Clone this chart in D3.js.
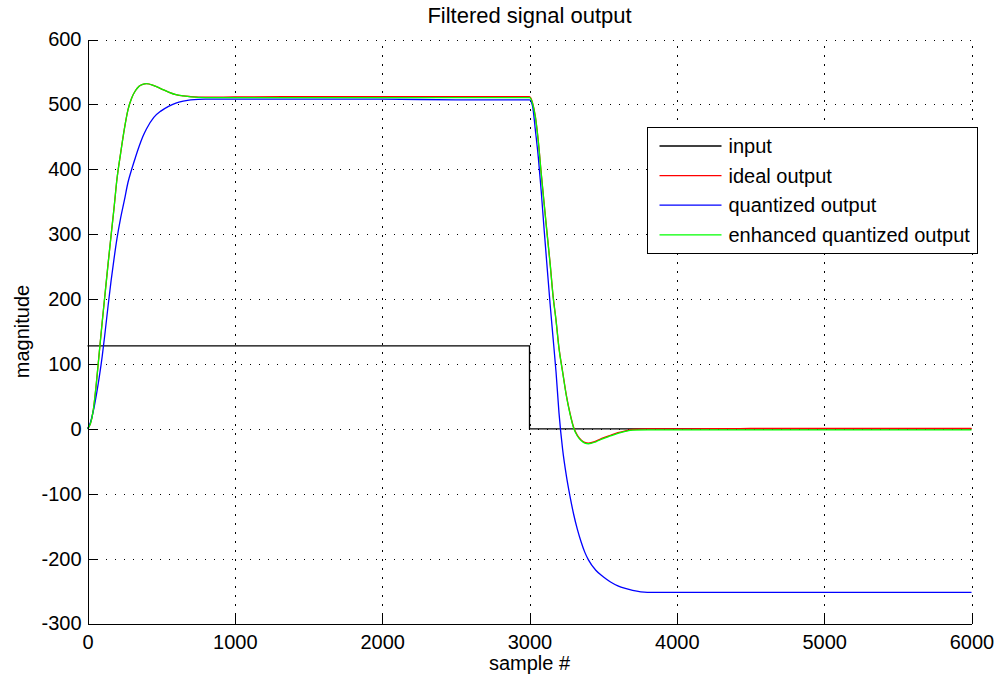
<!DOCTYPE html>
<html>
<head>
<meta charset="utf-8">
<script src="https://cdn.jsdelivr.net/npm/d3@7"></script>
<style>
  body { margin: 0; background: #fff; }
  svg { font-family: "Liberation Sans", Arial, Helvetica, sans-serif; }
  .grid line { stroke: #000; stroke-width: 1; stroke-dasharray: 1.5,7.5; shape-rendering: crispEdges; }
  .axis path, .axis line { stroke: #000; shape-rendering: crispEdges; }
  .trace { fill: none; stroke-width: 1.3; }
</style>
</head>
<body>
<svg width="996" height="683"></svg>
<script>
const width = 996,
  height = 683

const margin = { top: 39.5, right: 24.5, bottom: 59.5, left: 87.5 }

// x ticks and y ticks
const xTicks = [0, 1000, 2000, 3000, 4000, 5000, 6000]
const yTicks = [-300, -200, -100, 0, 100, 200, 300, 400, 500, 600]

// input step
const inputSamples = [0, 3000, 3000, 6000]
const inputValues = [128, 128, 0, 0]

// filter outputs
const samples = [
  0, 20, 40, 60, 80, 100, 120, 140, 160, 180, 200, 225, 250, 275, 300, 325, 350, 375, 400,
  450, 500, 550, 600, 650, 700, 800, 1000, 1500, 2000, 2500, 3000,
  3020, 3040, 3060, 3080, 3100, 3120, 3140, 3160, 3180, 3200, 3225, 3250, 3275, 3300, 3325,
  3350, 3375, 3400, 3450, 3500, 3550, 3600, 3650, 3700, 3800, 4000, 4500, 5000, 5500, 6000
]

const idealOutput = [
  0, 8, 30, 70, 118, 165, 210, 255, 298, 340, 385, 425, 462, 492, 510, 521, 528, 531, 532,
  529, 524, 519, 515, 513, 512, 511, 511.5, 512, 512, 512, 512,
  503, 481, 443, 393, 346, 300, 255, 205, 168, 125, 88, 52, 24, 2, -10,
  -17, -21, -22, -19, -14, -10, -6, -3, -1, 0, 0, 0.5, 0.5, 0.5, 0.5
]

const quantizedOutput = [
  0, 10, 28, 52, 80, 112, 150, 190, 228, 262, 293, 325, 352, 380, 400, 418, 435, 450, 462,
  480, 490, 497, 502, 505, 507, 508, 508, 508, 508, 507, 507,
  498, 460, 418, 365, 305, 248, 192, 140, 88, 25, -32, -72, -104, -132, -155,
  -174, -190, -202, -218, -228, -236, -242, -246, -249, -252, -252, -252, -252, -252, -252
]

const enhancedOutput = [
  0, 8, 30, 70, 118, 165, 210, 255, 298, 340, 385, 425, 462, 492, 510, 521, 528, 531, 532,
  529, 524, 519, 515, 513, 511.5, 510.5, 510.5, 510.5, 510.5, 510.5, 510.5,
  502, 480, 442, 392, 345, 299, 254, 204, 167, 124, 87, 51, 23, 1, -11,
  -18, -22, -23, -20, -15, -11, -7, -4, -2, -1.5, -1.5, -1.5, -1.5, -1.5, -1.5
]

const seriesNames = ['input', 'ideal output', 'quantized output', 'enhanced quantized output']
const seriesColors = ['#000000', '#ff0000', '#0000ff', '#00ff00']

let svg = d3.select('svg')

svg.append('rect').attr('width', width).attr('height', height).attr('fill', '#fff')

let x = d3.scaleLinear()
  .domain([0, 6000])
  .range([margin.left, width - margin.right])

let y = d3.scaleLinear()
  .domain([-300, 600])
  .range([height - margin.bottom, margin.top])

// plain integer labels with an ascii minus, like matlab
let fmt = d => String(d)

// dotted grid
let grid = svg.append('g').attr('class', 'grid')

grid.selectAll('line.v')
  .data(xTicks.slice(1))
  .enter()
    .append('line')
    .attr('class', 'v')
    .attr('x1', d => Math.round(x(d)) + 0.5)
    .attr('x2', d => Math.round(x(d)) + 0.5)
    .attr('y1', y(-300))
    .attr('y2', y(600))

grid.selectAll('line.h')
  .data(yTicks.slice(1))
  .enter()
    .append('line')
    .attr('class', 'h')
    .attr('x1', x(0))
    .attr('x2', x(6000))
    .attr('y1', d => Math.round(y(d)) + 0.5)
    .attr('y2', d => Math.round(y(d)) + 0.5)

// traces
let line = d3.line()
  .x(d => x(d[0]))
  .y(d => y(d[1]))

let traces = [
  d3.zip(inputSamples, inputValues),
  d3.zip(samples, idealOutput),
  d3.zip(samples, quantizedOutput),
  d3.zip(samples, enhancedOutput)
]

svg.append('g')
  .selectAll('path')
  .data(traces)
  .enter()
    .append('path')
    .attr('class', 'trace')
    .attr('stroke', (d, i) => seriesColors[i])
    .attr('d', (d, i) => i === 0 ? line.curve(d3.curveLinear)(d) : line.curve(d3.curveMonotoneX)(d))

// axes, ticks pointing in
let xAxis = svg.append('g')
  .attr('class', 'axis')
  .attr('transform', `translate(0,${y(-300)})`)
  .call(d3.axisBottom(x).tickValues(xTicks).tickFormat(fmt).tickSizeInner(-9).tickSizeOuter(0).tickPadding(11))

let yAxis = svg.append('g')
  .attr('class', 'axis')
  .attr('transform', `translate(${x(0)},0)`)
  .call(d3.axisLeft(y).tickValues(yTicks).tickFormat(fmt).tickSizeInner(-9).tickSizeOuter(0).tickPadding(6))

svg.selectAll('.axis text')
  .attr('font-size', 20)
  .attr('font-family', '"Liberation Sans", Arial, sans-serif')
  .attr('fill', '#000')

// labels
svg.append('text')
  .attr('x', (x(0) + x(6000)) / 2)
  .attr('y', 23)
  .attr('text-anchor', 'middle')
  .attr('font-size', 22)
  .text('Filtered signal output')

svg.append('text')
  .attr('x', (x(0) + x(6000)) / 2)
  .attr('y', 670)
  .attr('text-anchor', 'middle')
  .attr('font-size', 20)
  .text('sample #')

svg.append('text')
  .attr('transform', `translate(29,${(y(-300) + y(600)) / 2}) rotate(-90)`)
  .attr('text-anchor', 'middle')
  .attr('font-size', 20)
  .text('magnitude')

// legend
let legend = svg.append('g').attr('transform', 'translate(647.5,127.5)')

legend.append('rect')
  .attr('width', 330)
  .attr('height', 126)
  .attr('fill', '#fff')
  .attr('stroke', '#000')

let items = legend.selectAll('g.item')
  .data(seriesNames)
  .enter()
    .append('g')
    .attr('class', 'item')
    .attr('transform', (d, i) => `translate(0,${18.5 + i * 29.6})`)

items.append('line')
  .attr('x1', 12)
  .attr('x2', 74)
  .attr('stroke', (d, i) => seriesColors[i])
  .attr('stroke-width', 1.3)

items.append('text')
  .attr('x', 81)
  .attr('dy', '0.35em')
  .attr('font-size', 20)
  .text(d => d)
</script>
</body>
</html>
